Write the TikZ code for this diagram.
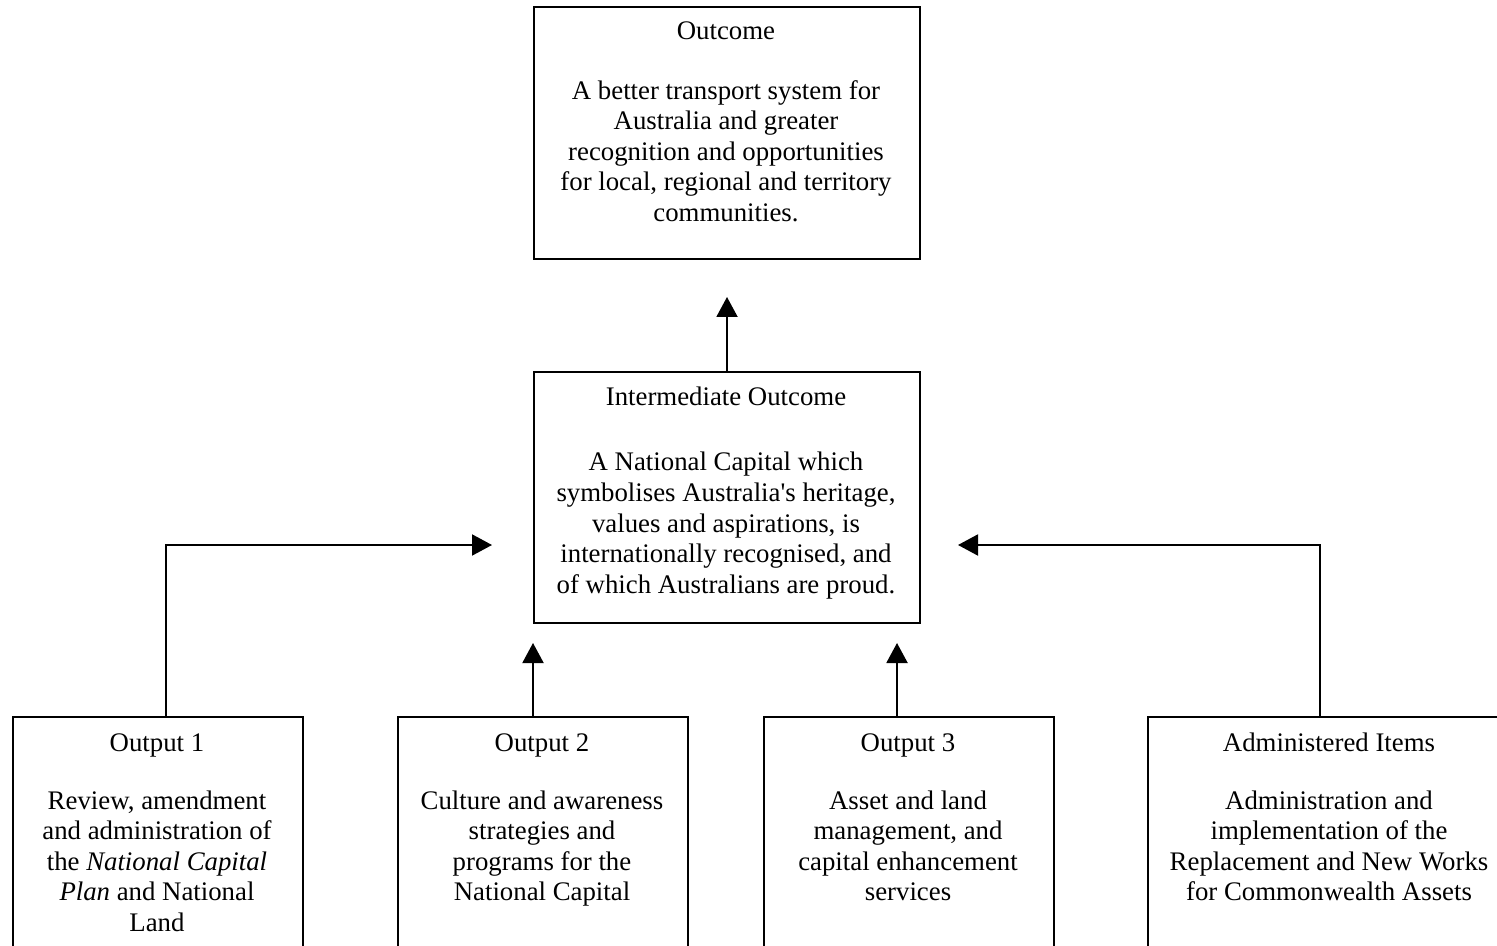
\documentclass[tikz,border=0pt]{standalone}
\usepackage{fontspec}
\setmainfont{Liberation Serif}[Ligatures=TeXOff]
\usetikzlibrary{arrows.meta}
\begin{document}
\begin{tikzpicture}[x=0.5pt,y=-0.5pt,
  box/.style={draw=black, line width=1pt, rectangle, inner sep=0pt, anchor=north west},
  ttl/.style={anchor=base, inner sep=0pt, font=\fontsize{13.4}{15.25}\selectfont},
  body/.style={anchor=north, inner sep=0pt, align=center, font=\fontsize{13.4}{15.25}\selectfont},
  arr/.style={line width=1pt, -{Triangle[length=10pt,width=10.5pt]}}]
\useasboundingbox (0,0) rectangle (1497,946);
\clip (0,0) rectangle (1497,946);
% boxes
\node[box, minimum width=193pt, minimum height=126pt] (outc) at (533,6) {};
\node[box, minimum width=193pt, minimum height=125.5pt] (inter) at (533,371) {};
\node[box, minimum width=145pt, minimum height=130pt] (o1) at (12,716) {};
\node[box, minimum width=145pt, minimum height=130pt] (o2) at (397,716) {};
\node[box, minimum width=145pt, minimum height=130pt] (o3) at (763,716) {};
\node[box, minimum width=182pt, minimum height=130pt] (adm) at (1147,716) {};
% texts
\node[ttl] (outcT) at (726,40) {Outcome};
\node[body] (outcB) at (726,80) {A better transport system for\\Australia and greater\\recognition and opportunities\\for local, regional and territory\\communities.};
\node[ttl] (interT) at (726,405) {Intermediate Outcome};
\node[body] (interB) at (726,452) {A National Capital which\\symbolises Australia's heritage,\\values and aspirations, is\\internationally recognised, and\\of which Australians are proud.};
\node[ttl] (o1T) at (157,751) {Output 1};
\node[body] (o1B) at (157,790) {Review, amendment\\and administration of\\the \textit{National Capital}\\\textit{Plan} and National\\Land};
\node[ttl] (o2T) at (542,751) {Output 2};
\node[body] (o2B) at (542,790) {Culture and awareness\\strategies and\\programs for the\\National Capital};
\node[ttl] (o3T) at (908,751) {Output 3};
\node[body] (o3B) at (908,790) {Asset and land\\management, and\\capital enhancement\\services};
\node[ttl] (admT) at (1329,751) {Administered Items};
\node[body] (admB) at (1329,790) {Administration and\\implementation of the\\Replacement and New Works\\for Commonwealth Assets};
% arrow tips
\coordinate (tOut) at (726,297);
\coordinate (t1) at (492,545);
\coordinate (t2) at (533,643);
\coordinate (t3) at (897,643);
\coordinate (t4) at (958,545);
\coordinate (s1) at (166,716);
\coordinate (s4) at (1320,716);
% connectors
\draw[arr] (inter.north) -- (inter.north |- tOut);
\draw[arr] (s1) |- (t1);
\draw[arr] (o2.north -| t2) -- (t2);
\draw[arr] (o3.north -| t3) -- (t3);
\draw[arr] (s4) |- (t4);
\end{tikzpicture}
\end{document}
